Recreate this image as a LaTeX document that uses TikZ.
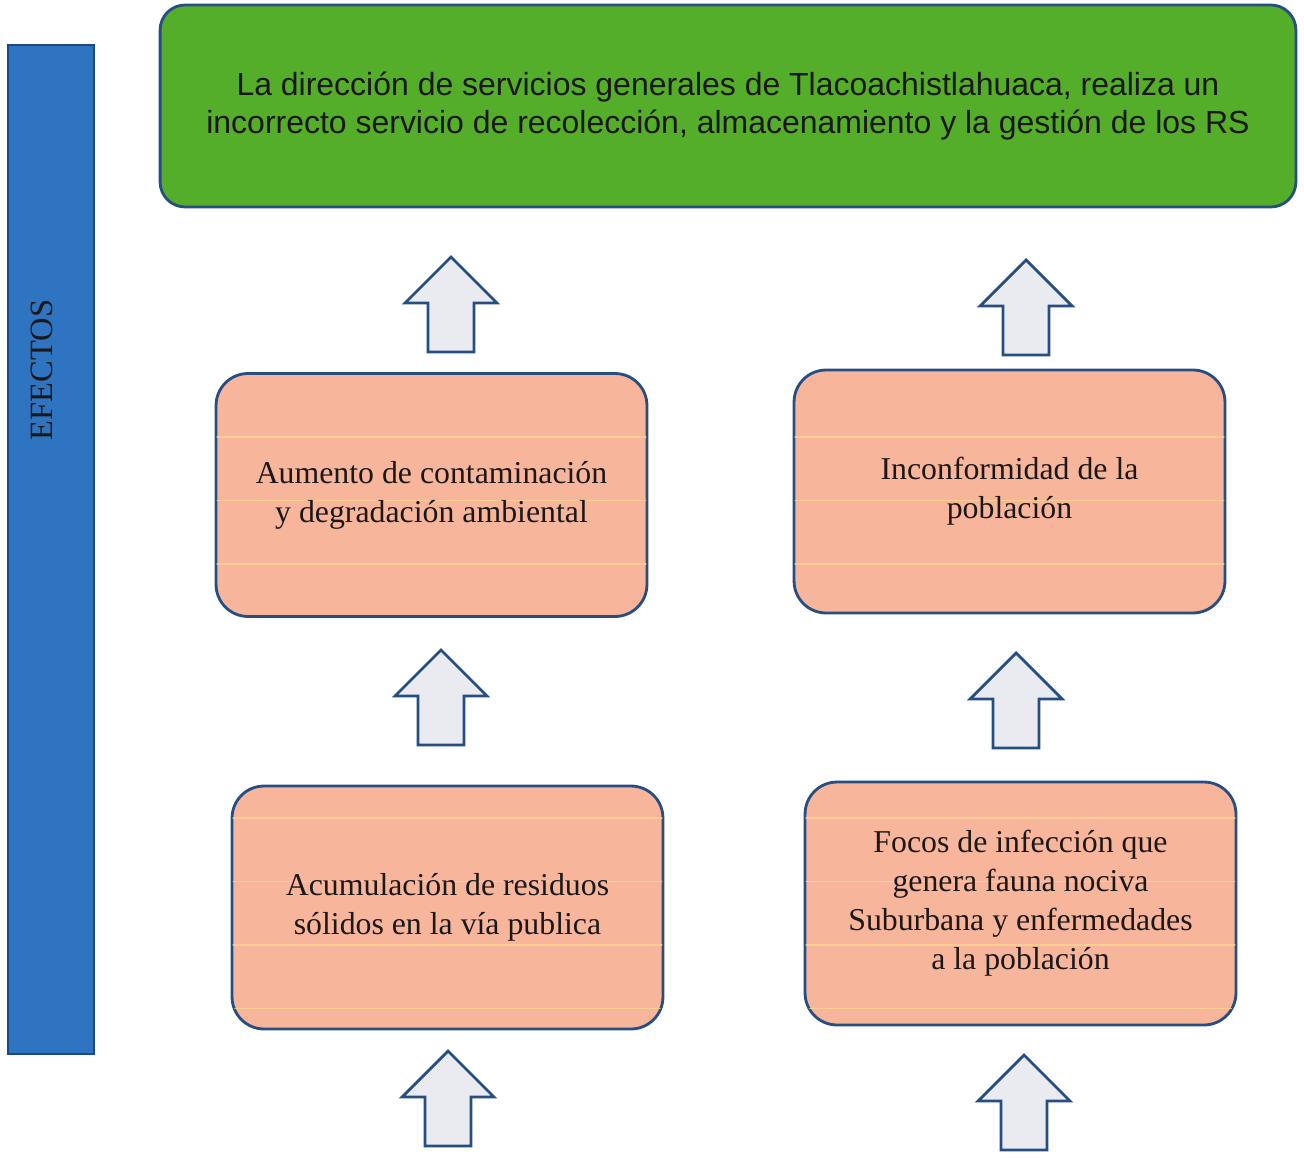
\documentclass[tikz,border=0pt]{standalone}
\usepackage{fontspec}
\setmainfont{Liberation Serif}
\newfontfamily\arialfont{Liberation Sans}
\definecolor{salmon}{RGB}{247,182,156}
\definecolor{bordercol}{RGB}{38,78,128}
\definecolor{greenfill}{RGB}{84,174,42}
\definecolor{barfill}{RGB}{46,116,192}
\definecolor{barborder}{RGB}{30,72,130}
\definecolor{arrowfill}{RGB}{234,235,241}
\definecolor{paperline}{RGB}{250,214,140}
\definecolor{txt}{RGB}{28,24,24}
\begin{document}
\begin{tikzpicture}[x=0.02cm,y=-0.02cm,
  effect/.style={draw=bordercol, fill=salmon, line width=1.6pt, rounded corners=0.64cm,
    minimum width=8.62cm, minimum height=4.86cm, align=center, text=txt,
    font=\fontsize{18.1}{22.2}\selectfont, inner sep=0pt},
  problem/.style={draw=bordercol, fill=greenfill, line width=1.6pt, rounded corners=0.5cm,
    minimum width=22.72cm, minimum height=4.04cm, align=center, text=txt,
    font=\arialfont\fontsize{18.2}{21.3}\selectfont, inner sep=0pt},
  sidebar/.style={draw=barborder, fill=barfill, line width=1.2pt,
    minimum width=1.72cm, minimum height=20.18cm, inner sep=0pt},
  sidelabel/.style={text=txt, font=\fontsize{18.5}{20}\selectfont, rotate=90, inner sep=0pt},
  arrowstyle/.style={draw=bordercol, fill=arrowfill, line width=1.6pt},
  paper/.style={draw=paperline, line width=0.8pt, opacity=0.8},
  uparr/.pic={\draw[arrowstyle] (0,0) -- (46,46) -- (23,46) -- (23,95) -- (-23,95) -- (-23,46) -- (-46,46) -- cycle;}
]
\useasboundingbox (0,0) rectangle (1304,1158);
\fill[white] (0,0) rectangle (1304,1158);

% side bar
\node[sidebar] (bar) at (51,549.5) {};
\node[sidelabel] (efectos) at (42,370) {EFECTOS};

% central problem
\node[problem] (top) at (728,106) {La dirección de servicios generales de Tlacoachistlahuaca, realiza un\\incorrecto servicio de recolección, almacenamiento y la gestión de los RS};

% effect boxes
\node[effect] (b1) at (431.5,495) {};
\node[effect] (b2) at (1009.5,491.5) {};
\node[effect] (b3) at (447.5,907.5) {};
\node[effect] (b4) at (1020.5,903.5) {};

% faint paper lines visible through the boxes
\foreach \bx in {b1,b2,b3,b4}{
  \begin{scope}
    \clip[rounded corners=0.6cm] ([shift={(2,-2)}]\bx.south west) rectangle ([shift={(-2,2)}]\bx.north east);
    \foreach \yy in {437,500.5,564,818,881.5,945,1008.5}{
      \draw[paper] (0,\yy) -- (1304,\yy);
    }
  \end{scope}
}
% box texts
\node[effect, draw=none, fill=none] (t1) at (b1) {Aumento de contaminación\\y degradación ambiental};
\node[effect, draw=none, fill=none] (t2) at (b2) {Inconformidad de la\\población};
\node[effect, draw=none, fill=none] (t3) at (b3) {Acumulación de residuos\\sólidos en la vía publica};
\node[effect, draw=none, fill=none] (t4) at (b4) {Focos de infección que\\genera fauna nociva\\Suburbana y enfermedades\\a la población};

% block arrows
\pic (a1) at (451,257) {uparr};
\pic (a2) at (1026,260) {uparr};
\pic (a3) at (441,650) {uparr};
\pic (a4) at (1016,653) {uparr};
\pic (a5) at (448,1051) {uparr};
\pic (a6) at (1024,1055) {uparr};
\end{tikzpicture}
\end{document}
